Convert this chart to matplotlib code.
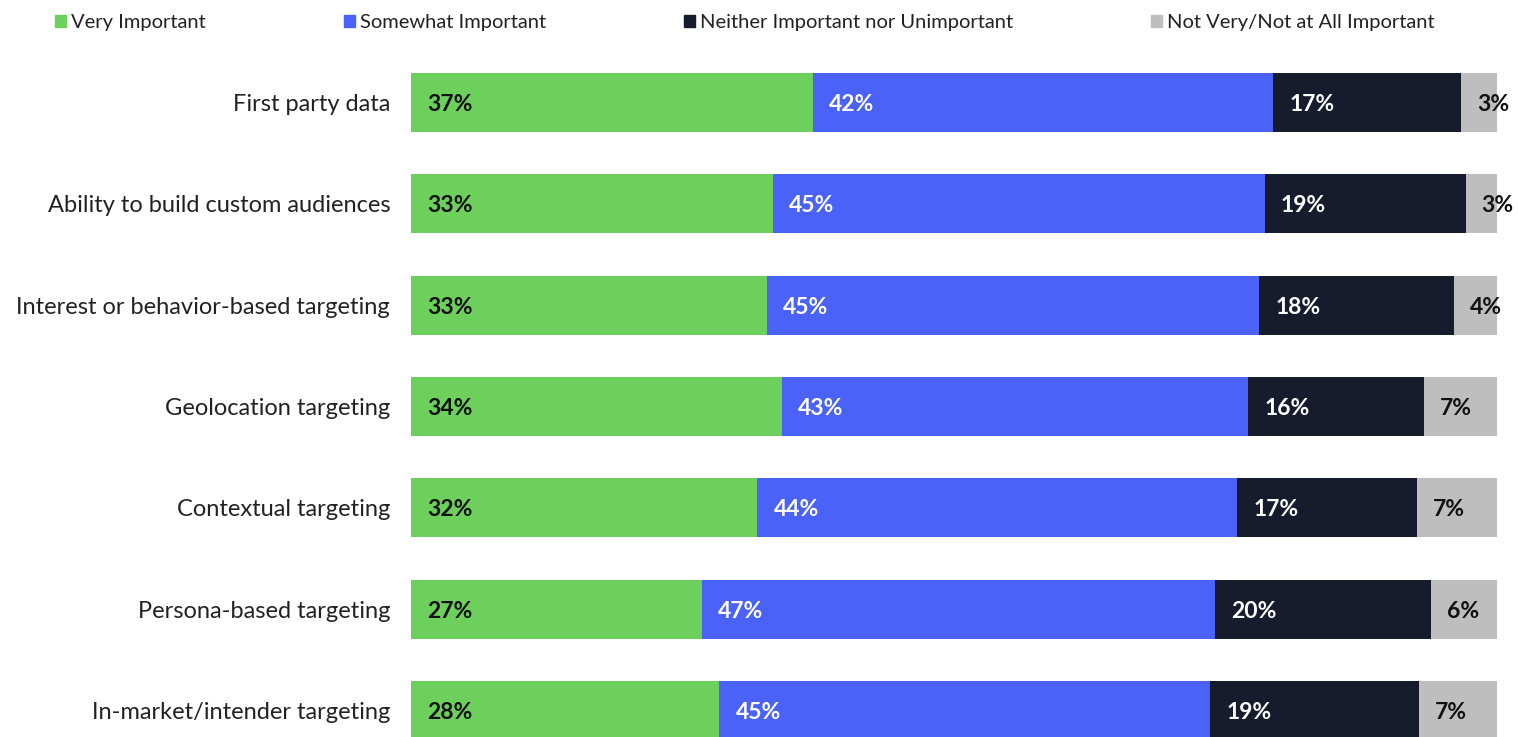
import matplotlib
matplotlib.use("Agg")
import matplotlib.pyplot as plt
from matplotlib.patches import Patch

categories = ["First party data", "Ability to build custom audiences",
              "Interest or behavior-based targeting", "Geolocation targeting",
              "Contextual targeting", "Persona-based targeting",
              "In-market/intender targeting"]
series_names = ["Very Important", "Somewhat Important",
                "Neither Important nor Unimportant", "Not Very/Not at All Important"]
very = [37.0, 33.3, 32.8, 34.2, 31.9, 26.8, 28.4]
somewhat = [42.4, 45.3, 45.3, 42.9, 44.2, 47.2, 45.2]
neither = [17.3, 18.5, 17.9, 16.2, 16.5, 19.9, 19.2]
notvery = [3.3, 2.9, 4.0, 6.7, 7.5, 6.1, 7.3]
labels = [["37%", "33%", "33%", "34%", "32%", "27%", "28%"],
          ["42%", "45%", "45%", "43%", "44%", "47%", "45%"],
          ["17%", "19%", "18%", "16%", "17%", "20%", "19%"],
          ["3%", "3%", "4%", "7%", "7%", "6%", "7%"]]

colors = ["#6DCF5C", "#4A62F7", "#161B2E", "#BEBEBE"]
text_colors = ["#111111", "white", "white", "#111111"]

plt.rcParams['font.family'] = ['Lato', 'DejaVu Sans']

W, H = 1518, 737
fig = plt.figure(figsize=(W / 100, H / 100), dpi=100)
ax = fig.add_axes([411 / W, 0, (1497 - 411) / W, 1])
ax.set_xlim(0, 100)
y0, step = 102.5, 101.3
ax.set_ylim((H - y0) / step, -y0 / step)

series = [very, somewhat, neither, notvery]
left = [0.0] * len(categories)
ypos = list(range(len(categories)))
for s, vals in enumerate(series):
    ax.barh(ypos, vals, left=left, height=59 / step, color=colors[s], linewidth=0)
    for i, v in enumerate(vals):
        ax.annotate(labels[s][i], xy=(left[i], i), xytext=(16, -2),
                    textcoords="offset pixels", ha="left", va="center",
                    fontsize=16.5, fontweight="bold", color=text_colors[s])
    left = [l + v for l, v in zip(left, vals)]

ax.set_yticks(ypos)
ax.set_yticklabels(categories, fontsize=17, color="#222222")
ax.tick_params(axis="y", length=0, pad=15)
ax.set_xticks([])
for sp in ax.spines.values():
    sp.set_visible(False)

handles = [Patch(color=c, label=n) for c, n in zip(colors, series_names)]
fig.legend(handles=handles, loc="upper left", bbox_to_anchor=(55 / W, 1 - 14 / H),
           ncol=4, frameon=False, fontsize=14.5, handlelength=0.55, handleheight=0.55,
           handletextpad=0.25, columnspacing=6.85, borderaxespad=0, borderpad=0,
           labelcolor="#222222")

fig.savefig("out.png", dpi=100)
